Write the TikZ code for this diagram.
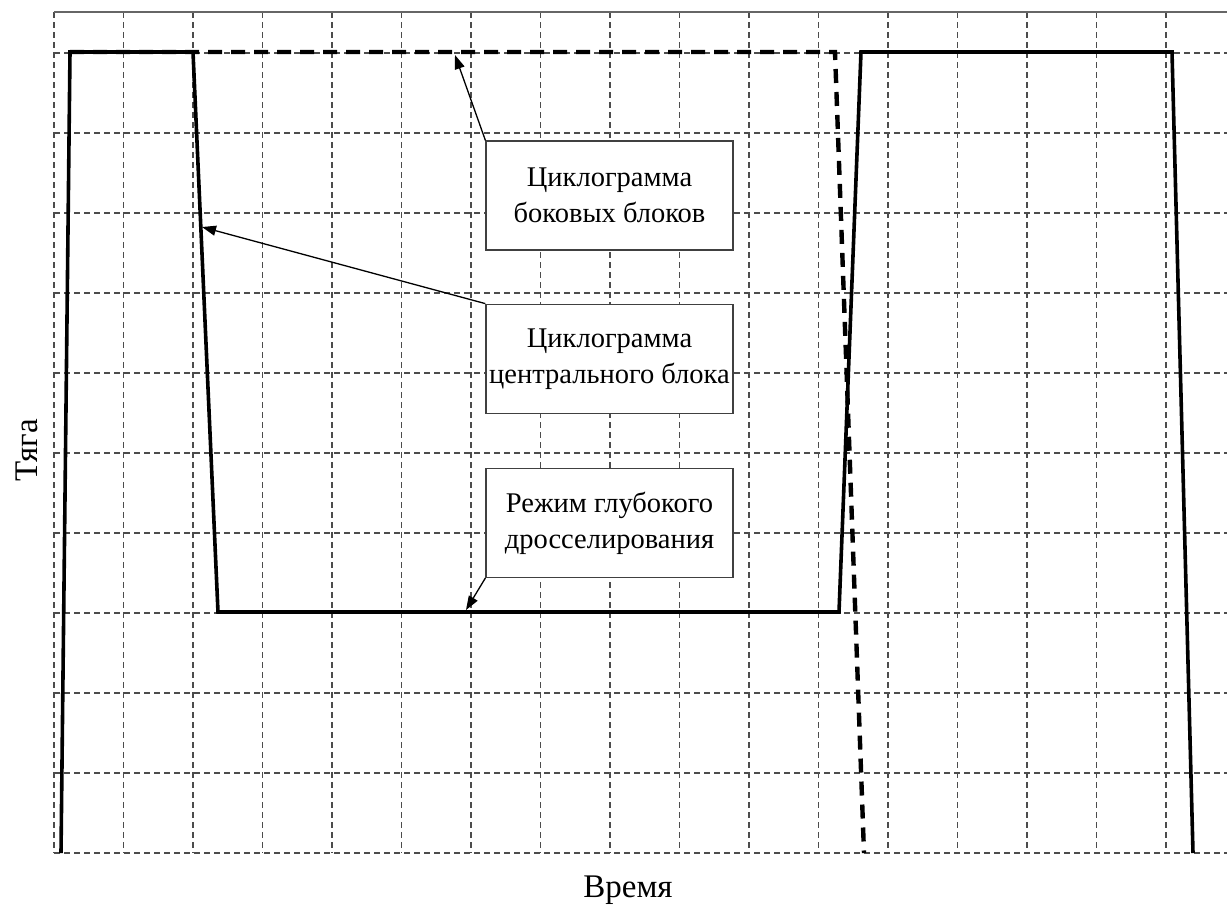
\documentclass[tikz,border=0pt]{standalone}
\usepackage{fontspec}
\setmainfont{Liberation Serif}
\usetikzlibrary{arrows.meta,positioning}

\begin{document}
\begin{tikzpicture}
  [
    x=1pt, y=-1pt,
    gridline/.style={draw=black!70,line width=1.3pt,dash pattern=on 6pt off 4pt},
    centralcurve/.style={line width=3.6pt,line join=miter},
    sidecurve/.style={line width=4.4pt,dash pattern=on 14pt off 9pt},
    note/.style={rectangle,draw=black!75,fill=white,line width=1.2pt,minimum width=247pt,minimum height=109pt,align=center,font=\fontsize{28.5}{36}\selectfont},
    pointer/.style={line width=1.3pt,-{Triangle[length=14pt,width=10pt]}},
    axislabel/.style={font=\fontsize{33}{40}\selectfont}
  ]
  \useasboundingbox (0,0) rectangle (1227,906);
  % grid
  \foreach \i in {0,...,16}
    \draw[gridline] (54+69.5*\i,12) -- (54+69.5*\i,853);
  \foreach \k in {0,...,10}
    \draw[gridline] (54,853-80*\k) -- (1227,853-80*\k);
  \draw[draw=black!60,line width=1.3pt] (54,12) -- (1227,12);
  % cyclograms
  \draw[sidecurve] (70,52) -- (835,52) -- (864,853);
  \draw[centralcurve] (61,853) -- (70,52) -- (193,52) -- (218,612) -- (839,612)
    -- (861,52) -- (1172,52) -- (1193,853);
  % notes
  \node[note] (side box) at (609.5,195.5) {Циклограмма\\боковых блоков};
  \node[note,below=53pt of side box] (central box) {Циклограмма\\центрального блока};
  \node[note,below=54pt of central box] (throttle box) {Режим глубокого\\дросселирования};
  \coordinate (side tip) at (455,55);
  \coordinate (central tip) at (202,227);
  \coordinate (throttle tip) at (466,610);
  \draw[pointer] (side box.north west) -- (side tip);
  \draw[pointer] (central box.north west) -- (central tip);
  \draw[pointer] (throttle box.south west) -- (throttle tip);
  % axes
  \node[axislabel,rotate=90,anchor=base] (thrust) at (37,450) {Тяга};
  \node[axislabel,anchor=base] (time) at (628,897) {Время};
\end{tikzpicture}
\end{document}
